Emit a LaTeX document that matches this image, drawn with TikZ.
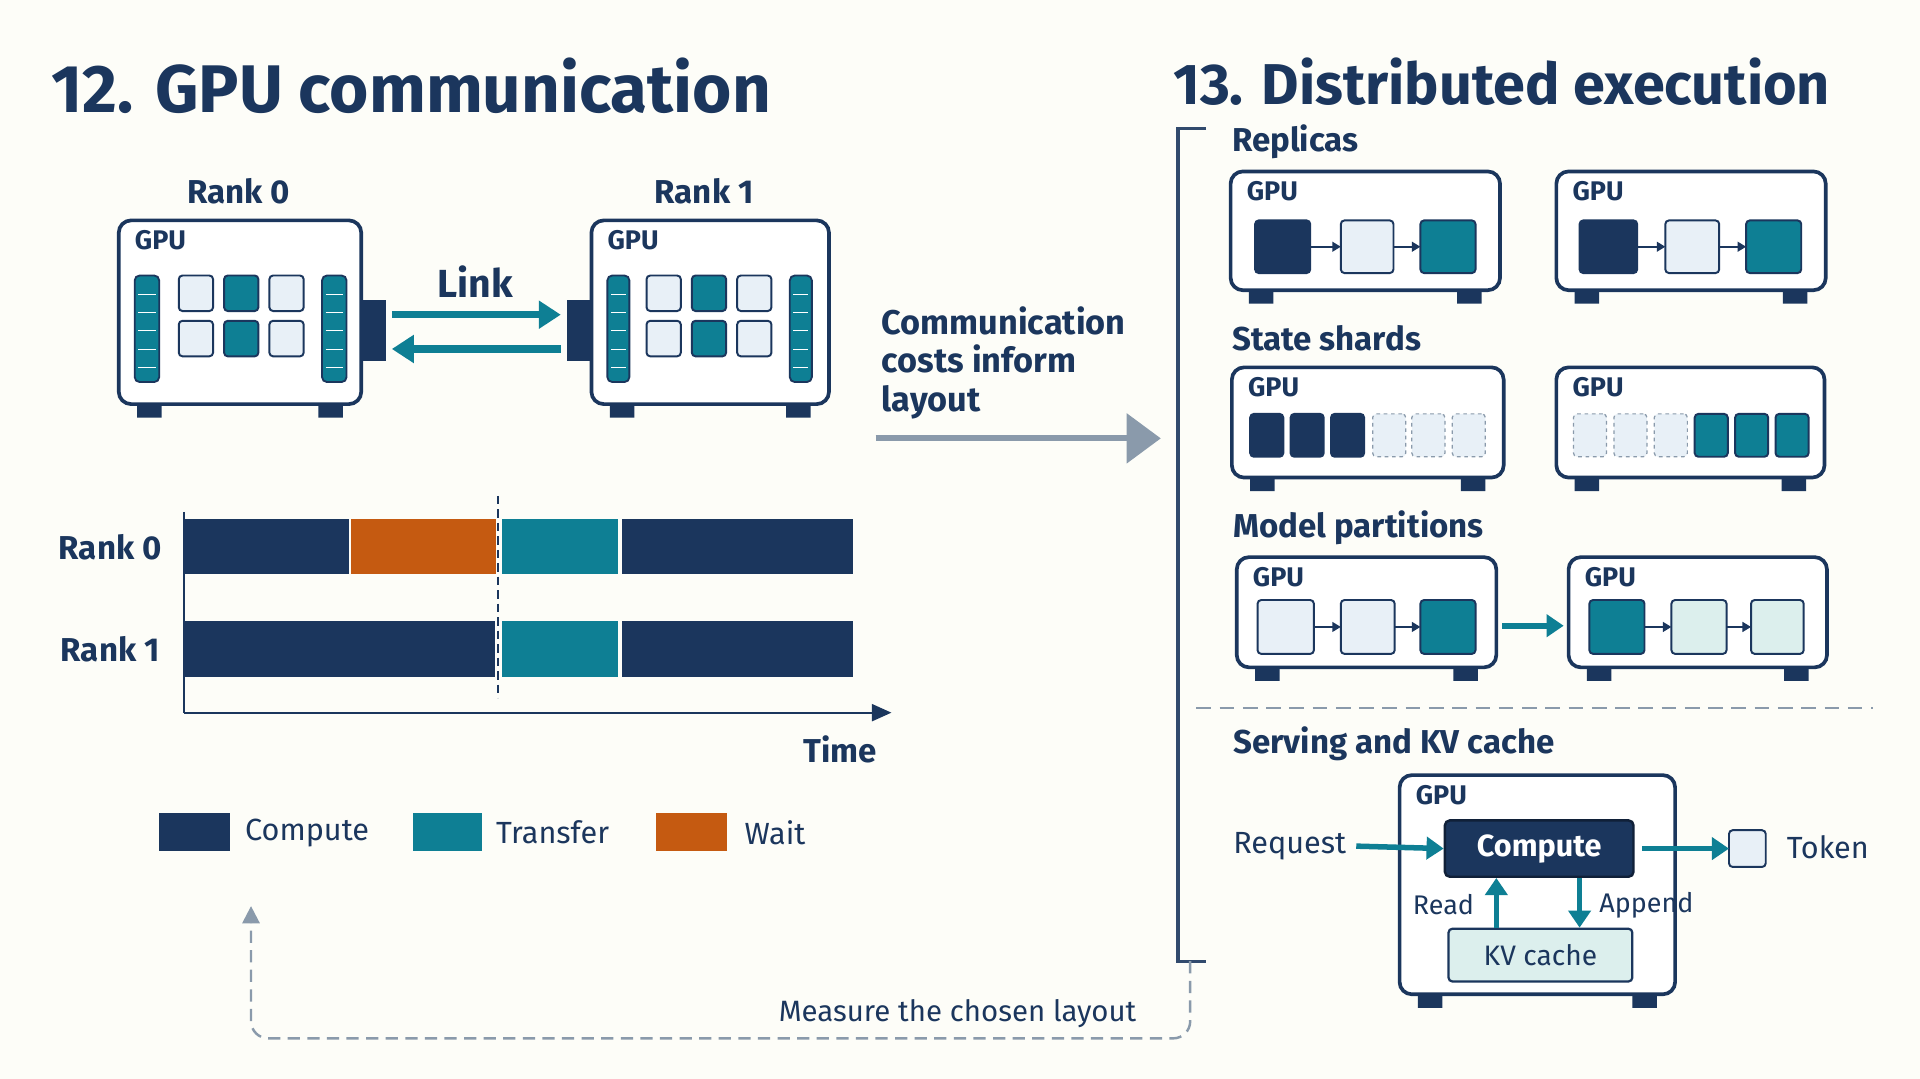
\documentclass[tikz,border=0pt]{standalone}
\usepackage{fontspec}
\setmainfont{Fira Sans}
\usetikzlibrary{arrows.meta}
\definecolor{navy}{HTML}{1B365D}
\definecolor{teal}{HTML}{0E7F94}
\definecolor{orng}{HTML}{C55A11}
\definecolor{lite}{HTML}{E8F0F7}
\definecolor{ltteal}{HTML}{DCEFED}
\definecolor{bg}{HTML}{FDFDF8}
\definecolor{gry}{HTML}{8A9AAB}
\newcommand{\bx}[6][]{\node[#1,inner sep=0pt,outer sep=0pt,anchor=north west,minimum width={(#5-#3)*1pt},minimum height={(#6-#4)*1pt}] (#2) at (#3,#4) {};}
\newcommand{\gpub}[6]{\bx[gbox]{#1}{#2}{#3}{#4}{#5}
 \fill[navy] (#2+15,#5) rectangle (#2+35,#5+11) (#4-35,#5) rectangle (#4-15,#5+11);
 \node[anchor=north west,font=\fontsize{22}{24}\selectfont\bfseries,text=navy,inner sep=0pt] at (#2+13,#3+8) {#6};}
\begin{document}
\begin{tikzpicture}[x=1pt,y=-1pt,
 gbox/.style={draw=navy,line width=3pt,fill=white,rounded corners=10pt},
 sq/.style={draw=navy,line width=1.6pt,rounded corners=3pt},
 dsq/.style={draw=gry,dashed,line width=1pt,fill=lite,rounded corners=3pt},
 ar/.style={-{Triangle[length=7pt,width=8pt]},navy,line width=1.6pt},
 tarr/.style={-{Triangle[length=18pt,width=22pt]},teal,line width=6pt},
 lbl/.style={text=navy,font=\fontsize{27}{30}\selectfont\bfseries,inner sep=0pt},
 txt/.style={text=navy,font=\fontsize{25}{28}\selectfont,inner sep=0pt},
 hd/.style={text=navy,font=\fontsize{55}{60}\selectfont\bfseries,inner sep=0pt,anchor=base west}]
\fill[bg] (0,0) rectangle (1568,881);
\useasboundingbox (0,0) rectangle (1568,881);
\node[hd] (t12) at (42,92) {12. GPU communication};
\node[hd,font=\fontsize{47}{52}\selectfont\bfseries] (t13) at (958,85) {13. Distributed execution};
% GPUs
\node[lbl] (r0) at (195,156) {Rank 0};
\node[lbl] (r1) at (575,156) {Rank 1};
\gpub{g0}{97}{180}{295}{330}{GPU}
\gpub{g1}{483}{180}{677}{330}{GPU}
\foreach \xa/\xb in {110/130,263/283,496/514,645/663}{
 \fill[teal,draw=navy,line width=1.5pt,rounded corners=4pt] (\xa,225) rectangle (\xb,312);
 \foreach \yy in {240,255,270,285,300} \draw[white,line width=0.6pt] (\xa+3,\yy)--(\xb-3,\yy);}
\foreach \xo in {0,382}{
 \foreach \yy in {225,262}{
  \draw[sq,fill=lite] (146+\xo,\yy) rectangle (174+\xo,\yy+29);
  \draw[sq,fill=teal] (183+\xo,\yy) rectangle (211+\xo,\yy+29);
  \draw[sq,fill=lite] (220+\xo,\yy) rectangle (248+\xo,\yy+29);}}
\bx[fill=navy]{p0}{295}{245}{315}{295}
\bx[fill=navy]{p1}{463}{245}{483}{295}
\draw[tarr] ([xshift=5pt]p0.east|-0,257) -- ([xshift=-5pt]p1.west|-0,257);
\draw[tarr] ([xshift=-5pt]p1.west|-0,285) -- ([xshift=5pt]p0.east|-0,285);
\node[lbl,font=\fontsize{32}{34}\selectfont\bfseries] (lk) at (388,230) {Link};
% timeline
\node[lbl] (tr0) at (90,447) {Rank 0};
\node[lbl] (tr1) at (90,530) {Rank 1};
\bx[fill=navy]{c1}{150}{424}{285}{469}
\bx[fill=orng]{w1}{287}{424}{405}{469}
\bx[fill=teal]{x1}{410}{424}{505}{469}
\bx[fill=navy]{c2}{508}{424}{697}{469}
\bx[fill=navy]{c3}{150}{507}{404}{553}
\bx[fill=teal]{x2}{410}{507}{505}{553}
\bx[fill=navy]{c4}{508}{507}{697}{553}
\coordinate (ax0) at (150,582); \coordinate (ax1) at (728,582);
\coordinate (ay0) at (150,418);
\draw[navy,line width=1.5pt] (ay0)--(ax0);
\draw[navy,line width=1.5pt,-{Triangle[length=16pt,width=14pt]}] (ax0)--(ax1);
\draw[navy,line width=1.8pt,dash pattern=on 7pt off 4pt] (407,405)--(407,570);
\node[lbl] (tm) at (686,612) {Time};
\bx[fill=navy]{lc}{130}{664}{188}{695}
\bx[fill=teal]{lt}{337}{664}{394}{695}
\bx[fill=orng]{lw}{536}{664}{594}{695}
\node[txt,anchor=west] (lct) at (200,680) {Compute};
\node[txt,anchor=west] (ltt) at (405,680) {Transfer};
\node[txt,anchor=west] (lwt) at (608,680) {Wait};
% middle
\node[lbl,align=left,anchor=north west,font=\fontsize{28}{31.5}\selectfont\bfseries] (cc) at (720,250) {Communication\\ costs inform\\ layout};
\coordinate (ma) at (715,358); \coordinate (mb) at (948,358);
\draw[gry,line width=5pt,-{Triangle[length=28pt,width=40pt]}] (ma)--(mb);
% bracket
\draw[navy!80!gry,line width=2.5pt] (985,105)--(962,105)--(962,785)--(985,785);
\coordinate (brb) at (972,785);
% replicas
\node[lbl,anchor=west] (hr) at (1006,116) {Replicas};
\gpub{ra}{1005}{140}{1225}{237}{GPU}
\gpub{rb}{1271}{140}{1491}{237}{GPU}
\bx[sq,fill=navy]{ra1}{1025}{180}{1070}{223}
\bx[sq,fill=lite]{ra2}{1095}{180}{1138}{223}
\bx[sq,fill=teal]{ra3}{1160}{180}{1205}{223}
\bx[sq,fill=navy]{rb1}{1290}{180}{1337}{223}
\bx[sq,fill=lite]{rb2}{1360}{180}{1404}{223}
\bx[sq,fill=teal]{rb3}{1426}{180}{1471}{223}
\draw[ar] (ra1)--(ra2); \draw[ar] (ra2)--(ra3);
\draw[ar] (rb1)--(rb2); \draw[ar] (rb2)--(rb3);
% state shards
\node[lbl,anchor=west] (hs) at (1006,276) {State shards};
\gpub{sa}{1006}{300}{1228}{390}{GPU}
\gpub{sb}{1271}{300}{1490}{390}{GPU}
\foreach \i/\xa in {1/1021,2/1054,3/1087}{\bx[sq,fill=navy]{sa\i}{\xa}{338}{\xa+27}{373}}
\foreach \i/\xa in {4/1121,5/1153,6/1186}{\bx[dsq]{sa\i}{\xa}{338}{\xa+27}{373}}
\foreach \i/\xa in {1/1285,2/1318,3/1351}{\bx[dsq]{sb\i}{\xa}{338}{\xa+27}{373}}
\foreach \i/\xa in {4/1384,5/1417,6/1450}{\bx[sq,fill=teal]{sb\i}{\xa}{338}{\xa+27}{373}}
% model partitions
\node[lbl,anchor=west] (hm) at (1007,431) {Model partitions};
\gpub{ma}{1010}{455}{1222}{545}{GPU}
\gpub{mb}{1281}{455}{1492}{545}{GPU}
\bx[sq,fill=lite]{ma1}{1027}{490}{1073}{534}
\bx[sq,fill=lite]{ma2}{1095}{490}{1139}{534}
\bx[sq,fill=teal]{ma3}{1160}{490}{1205}{534}
\bx[sq,fill=teal]{mb1}{1298}{490}{1343}{534}
\bx[sq,fill=ltteal]{mb2}{1365}{490}{1410}{534}
\bx[sq,fill=ltteal]{mb3}{1430}{490}{1473}{534}
\draw[ar] (ma1)--(ma2); \draw[ar] (ma2)--(ma3);
\draw[ar] (mb1)--(mb2); \draw[ar] (mb2)--(mb3);
\draw[tarr,-{Triangle[length=14pt,width=18pt]},line width=5pt] ([xshift=5pt]ma.east|-0,511) -- ([xshift=-4pt]mb.west|-0,511);
\draw[gry,line width=1.8pt,dash pattern=on 12pt off 7pt] (977,578)--(1530,578);
% serving
\node[lbl,anchor=west] (hv) at (1007,607) {Serving and KV cache};
\gpub{sv}{1143}{633}{1368}{812}{GPU}
\node[fill=navy,draw=navy!60!black,line width=2pt,rounded corners=4pt,minimum width=154pt,minimum height=46pt,text=white,font=\fontsize{25}{28}\selectfont\bfseries,inner sep=0pt] (cp) at (1257,693) {Compute};
\node[fill=ltteal,draw=navy,line width=1.8pt,rounded corners=3pt,minimum width=150pt,minimum height=43pt,text=navy,font=\fontsize{23}{26}\selectfont,inner sep=0pt] (kv) at (1258,780) {KV cache};
\draw[teal,line width=4.5pt,-{Triangle[length=14pt,width=18pt]}] (kv.north-|1222,0)--(cp.south-|1222,0);
\draw[teal,line width=4.5pt,-{Triangle[length=14pt,width=18pt]}] (cp.south-|1290,0)--(kv.north-|1290,0);
\node[txt,anchor=east,font=\fontsize{22}{24}\selectfont] (rd) at (1204,739) {Read};
\node[txt,anchor=west,font=\fontsize{22}{24}\selectfont] (ap) at (1306,739) {Append};
\node[txt,anchor=west] (rq) at (1007,691) {Request};
\draw[teal,line width=4.5pt,-{Triangle[length=14pt,width=18pt]}] (rq.east)++(8,0)--(cp.west);
\bx[sq,fill=lite]{tk}{1412}{678}{1442}{708}
\draw[teal,line width=4.5pt,-{Triangle[length=14pt,width=18pt]}] (cp.east)++(6,0)--(tk.west);
\node[txt,anchor=west] (tkt) at (1459,692) {Token};
% feedback
\coordinate (fb) at (205,740);
\draw[gry,line width=2pt,dash pattern=on 10pt off 6pt,rounded corners=14pt,-{Triangle[length=14pt,width=14pt]}] (brb)--(972,848)--(205,848)--(fb);
\node[txt,anchor=base,font=\fontsize{24}{26}\selectfont] (ms) at (782,834) {Measure the chosen layout};
\end{tikzpicture}
\end{document}
